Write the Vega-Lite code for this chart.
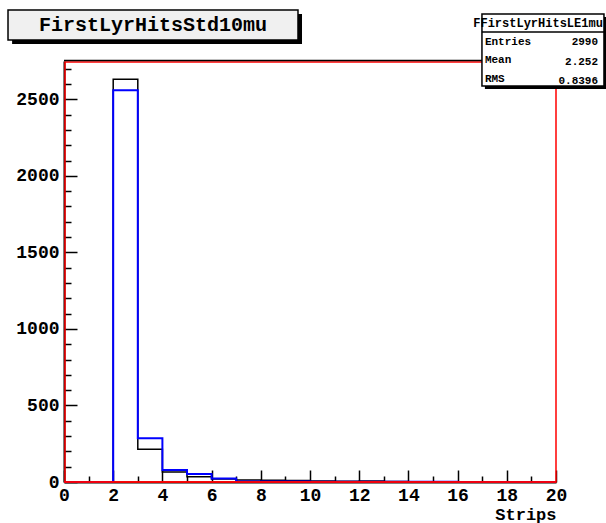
{
  "$schema": "https://vega.github.io/schema/vega-lite/v6.json",
  "width": 492,
  "height": 421,
  "autosize": {"type": "none"},
  "padding": {"left": 64, "top": 61, "right": 50, "bottom": 41},
  "background": "white",
  "config": {"view": {"stroke": null}},
  "resolve": {"axis": {"x": "independent", "y": "independent"}},
  "datasets": {
    "hist": [
      {"strip": 0, "count": 0, "series": "LE1mu"},
      {"strip": 1, "count": 0, "series": "LE1mu"},
      {"strip": 2, "count": 2631, "series": "LE1mu"},
      {"strip": 3, "count": 214, "series": "LE1mu"},
      {"strip": 4, "count": 65, "series": "LE1mu"},
      {"strip": 5, "count": 35, "series": "LE1mu"},
      {"strip": 6, "count": 20, "series": "LE1mu"},
      {"strip": 7, "count": 13, "series": "LE1mu"},
      {"strip": 8, "count": 11, "series": "LE1mu"},
      {"strip": 9, "count": 10, "series": "LE1mu"},
      {"strip": 10, "count": 7, "series": "LE1mu"},
      {"strip": 11, "count": 5, "series": "LE1mu"},
      {"strip": 12, "count": 7, "series": "LE1mu"},
      {"strip": 13, "count": 3, "series": "LE1mu"},
      {"strip": 14, "count": 2, "series": "LE1mu"},
      {"strip": 15, "count": 2, "series": "LE1mu"},
      {"strip": 16, "count": 1, "series": "LE1mu"},
      {"strip": 17, "count": 1, "series": "LE1mu"},
      {"strip": 18, "count": 1, "series": "LE1mu"},
      {"strip": 19, "count": 1, "series": "LE1mu"},
      {"strip": 20, "count": 1, "series": "LE1mu"},
      {"strip": 0, "count": 0, "series": "Std10mu"},
      {"strip": 1, "count": 0, "series": "Std10mu"},
      {"strip": 2, "count": 2559, "series": "Std10mu"},
      {"strip": 3, "count": 286, "series": "Std10mu"},
      {"strip": 4, "count": 78, "series": "Std10mu"},
      {"strip": 5, "count": 52, "series": "Std10mu"},
      {"strip": 6, "count": 23, "series": "Std10mu"},
      {"strip": 7, "count": 4, "series": "Std10mu"},
      {"strip": 8, "count": 3, "series": "Std10mu"},
      {"strip": 9, "count": 3, "series": "Std10mu"},
      {"strip": 10, "count": 2, "series": "Std10mu"},
      {"strip": 11, "count": 1, "series": "Std10mu"},
      {"strip": 12, "count": 2, "series": "Std10mu"},
      {"strip": 13, "count": 1, "series": "Std10mu"},
      {"strip": 14, "count": 1, "series": "Std10mu"},
      {"strip": 15, "count": 1, "series": "Std10mu"},
      {"strip": 16, "count": 0, "series": "Std10mu"},
      {"strip": 17, "count": 0, "series": "Std10mu"},
      {"strip": 18, "count": 0, "series": "Std10mu"},
      {"strip": 19, "count": 0, "series": "Std10mu"},
      {"strip": 20, "count": 0, "series": "Std10mu"},
      {"strip": 0, "count": 0, "series": "Empty"},
      {"strip": 20, "count": 0, "series": "Empty"}
    ],
    "one": [{}]
  },
  "layer": [
    {
      "data": {"name": "hist"},
      "transform": [{"filter": "datum.series === 'LE1mu'"}],
      "mark": {"type": "line", "interpolate": "step-after", "color": "black", "strokeWidth": 1.5},
      "encoding": {
        "x": {
          "field": "strip", "type": "quantitative",
          "scale": {"domain": [0, 20], "nice": false, "zero": false},
          "axis": {
            "values": [0,0.5,1,1.5,2,2.5,3,3.5,4,4.5,5,5.5,6,6.5,7,7.5,8,8.5,9,9.5,10,10.5,11,11.5,12,12.5,13,13.5,14,14.5,15,15.5,16,16.5,17,17.5,18,18.5,19,19.5,20],
            "format": "d",
            "labelExpr": "datum.value % 2 === 0 ? format(datum.value, 'd') : ''",
            "tickSize": {"condition": {"test": "datum.value % 2 === 0", "value": -12}, "value": -6},
            "tickColor": "black", "tickWidth": 1.5,
            "domainColor": "black", "domainWidth": 2,
            "labelFont": "Liberation Mono", "labelFontWeight": "bold", "labelFontSize": 18,
            "labelColor": "black", "labelPadding": 16, "labelFlush": false, "labelOverlap": false,
            "grid": false,
            "title": "Strips", "titleAnchor": "end", "titleFont": "Liberation Mono",
            "titleFontWeight": "bold", "titleFontSize": 17, "titleColor": "black", "titlePadding": -4
          }
        },
        "y": {
          "field": "count", "type": "quantitative",
          "scale": {"domain": [0, 2750], "nice": false},
          "axis": {
            "values": [0,100,200,300,400,500,600,700,800,900,1000,1100,1200,1300,1400,1500,1600,1700,1800,1900,2000,2100,2200,2300,2400,2500,2600,2700],
            "labelExpr": "datum.value % 500 === 0 ? datum.label : ''",
            "format": "d",
            "tickSize": {"condition": {"test": "datum.value % 500 === 0", "value": -13}, "value": -7},
            "tickColor": "black", "tickWidth": 1.5,
            "domainColor": "black", "domainWidth": 2,
            "labelFont": "Liberation Mono", "labelFontWeight": "bold", "labelFontSize": 18,
            "labelColor": "black", "labelPadding": 18, "labelFlush": false, "labelOverlap": false,
            "grid": false, "title": null
          }
        }
      }
    },
    {
      "data": {"name": "hist"},
      "transform": [{"filter": "datum.series === 'Std10mu'"}],
      "mark": {"type": "line", "interpolate": "step-after", "color": "#0000ff", "strokeWidth": 2},
      "encoding": {
        "x": {"field": "strip", "type": "quantitative", "axis": null},
        "y": {"field": "count", "type": "quantitative", "axis": null}
      }
    },
    {
      "data": {"name": "hist"},
      "transform": [{"filter": "datum.series === 'Empty'"}],
      "mark": {"type": "line", "color": "#ff0000", "strokeWidth": 1.5},
      "encoding": {
        "x": {"field": "strip", "type": "quantitative", "axis": null},
        "y": {"field": "count", "type": "quantitative", "axis": null}
      }
    },
    {
      "data": {"name": "one"},
      "mark": {"type": "rect", "fill": null, "stroke": "#ff0000", "strokeWidth": 1.5, "clip": false},
      "encoding": {
        "x": {"datum": 0.04, "type": "quantitative", "axis": null},
        "x2": {"datum": 20},
        "y": {"datum": 0, "type": "quantitative", "axis": null},
        "y2": {"datum": 2743}
      }
    },
    {
      "data": {"name": "one"},
      "mark": {"type": "rule", "color": "black", "strokeWidth": 1.5, "clip": false},
      "encoding": {
        "x": {"datum": 0, "type": "quantitative", "axis": null},
        "x2": {"datum": 17},
        "y": {"datum": 2753, "type": "quantitative", "axis": null}
      }
    },
    {
      "data": {"name": "one"},
      "mark": {"type": "rect", "fill": "black", "clip": false},
      "encoding": {
        "x": {"datum": -2.11, "type": "quantitative", "axis": null},
        "x2": {"datum": 9.675},
        "y": {"datum": 3057, "type": "quantitative", "axis": null},
        "y2": {"datum": 2861}
      }
    },
    {
      "data": {"name": "one"},
      "mark": {"type": "rect", "fill": "#f0f0f0", "stroke": "black", "strokeWidth": 1.5, "clip": false},
      "encoding": {
        "x": {"datum": -2.276, "type": "quantitative", "axis": null},
        "x2": {"datum": 9.512},
        "y": {"datum": 3083, "type": "quantitative", "axis": null},
        "y2": {"datum": 2887}
      }
    },
    {
      "data": {"name": "one"},
      "mark": {"type": "text", "font": "Liberation Mono", "fontWeight": "bold", "fontSize": 20, "color": "black", "align": "center", "baseline": "middle", "clip": false},
      "encoding": {
        "x": {"datum": 3.618, "type": "quantitative", "axis": null},
        "y": {"datum": 2985, "type": "quantitative", "axis": null},
        "text": {"value": "FirstLyrHitsStd10mu"}
      }
    },
    {
      "data": {"name": "one"},
      "mark": {"type": "rect", "fill": "black", "clip": false},
      "encoding": {
        "x": {"datum": 17.11, "type": "quantitative", "axis": null},
        "x2": {"datum": 22.1},
        "y": {"datum": 3037, "type": "quantitative", "axis": null},
        "y2": {"datum": 2567}
      }
    },
    {
      "data": {"name": "one"},
      "mark": {"type": "rect", "fill": "white", "stroke": "black", "strokeWidth": 1.5, "clip": false},
      "encoding": {
        "x": {"datum": 16.99, "type": "quantitative", "axis": null},
        "x2": {"datum": 21.95},
        "y": {"datum": 3057, "type": "quantitative", "axis": null},
        "y2": {"datum": 2587}
      }
    },
    {
      "data": {"name": "one"},
      "mark": {"type": "rule", "color": "black", "strokeWidth": 1.5, "clip": false},
      "encoding": {
        "x": {"datum": 16.99, "type": "quantitative", "axis": null},
        "x2": {"datum": 21.95},
        "y": {"datum": 2939, "type": "quantitative", "axis": null}
      }
    },
    {
      "data": {"name": "one"},
      "mark": {"type": "text", "font": "Liberation Mono", "fontWeight": "bold", "fontSize": 12, "color": "black", "align": "center", "baseline": "middle", "clip": false},
      "encoding": {
        "x": {"datum": 19.27, "type": "quantitative", "axis": null},
        "y": {"datum": 2998, "type": "quantitative", "axis": null},
        "text": {"value": "FFirstLyrHitsLE1mu"}
      }
    },
    {
      "data": {"name": "one"},
      "mark": {"type": "text", "font": "Liberation Mono", "fontWeight": "bold", "fontSize": 11, "color": "black", "align": "left", "baseline": "middle", "clip": false},
      "encoding": {
        "x": {"datum": 17.11, "type": "quantitative", "axis": null},
        "y": {"datum": 2874, "type": "quantitative", "axis": null},
        "text": {"value": "Entries"}
      }
    },
    {
      "data": {"name": "one"},
      "mark": {"type": "text", "font": "Liberation Mono", "fontWeight": "bold", "fontSize": 11, "color": "black", "align": "left", "baseline": "middle", "clip": false},
      "encoding": {
        "x": {"datum": 17.11, "type": "quantitative", "axis": null},
        "y": {"datum": 2754, "type": "quantitative", "axis": null},
        "text": {"value": "Mean"}
      }
    },
    {
      "data": {"name": "one"},
      "mark": {"type": "text", "font": "Liberation Mono", "fontWeight": "bold", "fontSize": 11, "color": "black", "align": "left", "baseline": "middle", "clip": false},
      "encoding": {
        "x": {"datum": 17.11, "type": "quantitative", "axis": null},
        "y": {"datum": 2632, "type": "quantitative", "axis": null},
        "text": {"value": "RMS"}
      }
    },
    {
      "data": {"name": "one"},
      "mark": {"type": "text", "font": "Liberation Mono", "fontWeight": "bold", "fontSize": 11, "color": "black", "align": "right", "baseline": "middle", "clip": false},
      "encoding": {
        "x": {"datum": 21.71, "type": "quantitative", "axis": null},
        "y": {"datum": 2874, "type": "quantitative", "axis": null},
        "text": {"value": "2990"}
      }
    },
    {
      "data": {"name": "one"},
      "mark": {"type": "text", "font": "Liberation Mono", "fontWeight": "bold", "fontSize": 11, "color": "black", "align": "right", "baseline": "middle", "clip": false},
      "encoding": {
        "x": {"datum": 21.71, "type": "quantitative", "axis": null},
        "y": {"datum": 2745, "type": "quantitative", "axis": null},
        "text": {"value": "2.252"}
      }
    },
    {
      "data": {"name": "one"},
      "mark": {"type": "text", "font": "Liberation Mono", "fontWeight": "bold", "fontSize": 11, "color": "black", "align": "right", "baseline": "middle", "clip": false},
      "encoding": {
        "x": {"datum": 21.71, "type": "quantitative", "axis": null},
        "y": {"datum": 2622, "type": "quantitative", "axis": null},
        "text": {"value": "0.8396"}
      }
    }
  ]
}
